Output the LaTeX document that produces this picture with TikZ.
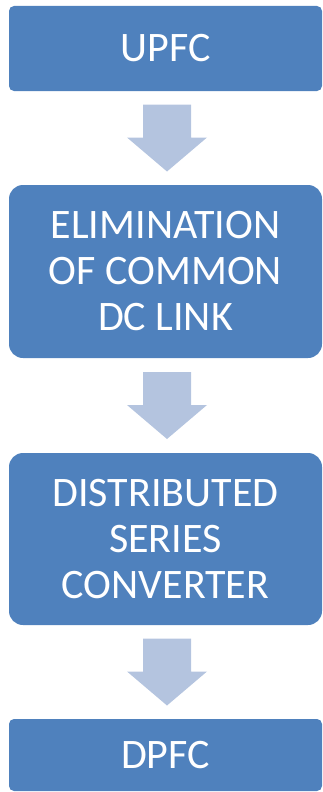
\documentclass[tikz,border=0pt]{standalone}
\usepackage{fontspec}
\setmainfont{Carlito}
\usetikzlibrary{calc}
\definecolor{stepblue}{RGB}{79,129,189}
\definecolor{arrowblue}{RGB}{180,196,223}

\begin{document}
\begin{tikzpicture}[x=1pt, y=1pt,
    box/.style={rectangle, fill=stepblue, text=white, minimum width=313pt,
        align=center, inner sep=0pt, font=\fontsize{42}{46}\selectfont},
    blockarrow/.style={fill=arrowblue}]
\useasboundingbox (0,0) rectangle (323,-792);

% Steps
\node[box, rounded corners=5pt, minimum height=85pt] (upfc) at (165.5,-48.5) {UPFC};
\node[box, rounded corners=14pt, minimum height=173pt] (elim) at (165.5,-271.5)
    {ELIMINATION\\OF COMMON\\DC LINK};
\node[box, rounded corners=14pt, minimum height=172pt] (dsc) at (165.5,-539)
    {DISTRIBUTED\\SERIES\\CONVERTER};
\node[box, rounded corners=5pt, minimum height=72pt] (dpfc) at (165.5,-755) {DPFC};

% Arrows between steps
\foreach \a/\b in {upfc/elim, elim/dsc, dsc/dpfc} {
    \coordinate (mid-\a) at ($(\a.south)!0.5!(\b.north)+(1.5,0)$);
    \fill[blockarrow] ($(mid-\a)+(-24,33.5)$) -- ++(48,0) -- ++(0,-33) -- ++(16,0)
        -- ($(mid-\a)+(0,-33.5)$) -- ($(mid-\a)+(-40,0.5)$) -- ++(16,0) -- cycle;
}
\end{tikzpicture}
\end{document}
